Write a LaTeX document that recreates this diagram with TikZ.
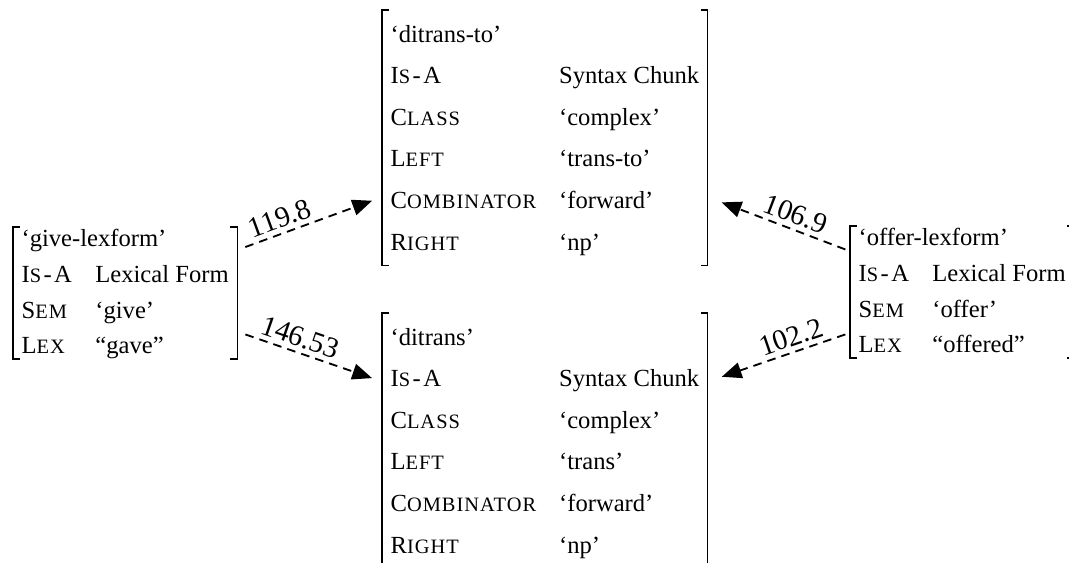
\documentclass[tikz,border=0pt]{standalone}
\usepackage{fontspec}
\setmainfont{Liberation Serif}
\usetikzlibrary{arrows.meta}
\newcommand{\smc}[1]{{\fontsize{8.3}{9.6}\selectfont\addfontfeature{LetterSpace=5}#1}}
\newcommand{\isa}{I\smc{S}\kern1pt-\kern1pt A}
\newcommand{\widthtick}{2.8pt}
\newcommand{\widthattrsmall}{30pt}
\newcommand{\widthattrbig}{68.5pt}
\newcommand{\lexform}[4]{%
    \renewcommand{\arraystretch}{1.21}%
    \begin{tabular}{@{}p{\widthattrsmall}@{}l@{}}
        \multicolumn{2}{@{}l@{}}{#1}\\
        \isa & #2\\
        S\smc{EM} & #3\\
        L\smc{EX} & #4
    \end{tabular}}
\newcommand{\chunk}[6]{%
    \renewcommand{\arraystretch}{1.41}%
    \begin{tabular}{@{}p{\widthattrbig}@{}l@{}}
        \multicolumn{2}{@{}l@{}}{#1}\\
        \isa & #2\\
        C\smc{LASS} & #3\\
        L\smc{EFT} & #4\\
        C\smc{OMBINATOR} & #5\\
        R\smc{IGHT} & #6
    \end{tabular}}
\tikzset{
    avm/.style={anchor=north west, inner xsep=3.3pt},
    lexavm/.style={avm, inner ysep=-2.4pt},
    chunkavm/.style={avm, inner ysep=1pt},
    bracket/.style={line width=0.5pt},
    link/.style={dash pattern=on 3.5pt off 2.5pt, line width=0.75pt, -{Triangle[length=8pt, width=6.5pt]}},
    weight/.style={sloped, above, inner sep=1.8pt, font=\fontsize{11.8}{14}\selectfont}
}
\newcommand{\brackets}[1]{%
    \draw[bracket] ([xshift=\widthtick]#1.north west) -| (#1.south west) -- ++(\widthtick,0);
    \draw[bracket] ([xshift=-\widthtick]#1.north east) -| (#1.south east) -- ++(-\widthtick,0);
}
\begin{document}
\begin{tikzpicture}[x=0.4065pt, y=-0.4065pt]
    \useasboundingbox (0,0) rectangle (1069,562);
    \clip (0,0) rectangle (1069,562);

    \path
        node[lexavm] (giveform) at (13,227) {\lexform{‘give-lexform’}{Lexical Form}{‘give’}{“gave”}}
        node[chunkavm] (ditransto) at (382,10) {\chunk{‘ditrans-to’}{Syntax Chunk}{‘complex’}{‘trans-to’}{‘forward’}{‘np’}}
        node[chunkavm] (ditrans) at (382,313) {\chunk{‘ditrans’}{Syntax Chunk}{‘complex’}{‘trans’}{‘forward’}{‘np’}}
        node[lexavm] (offerform) at (850,226) {\lexform{‘offer-lexform’}{Lexical Form}{‘offer’}{“offered”}};

    \brackets{giveform}
    \brackets{ditransto}
    \brackets{ditrans}
    \brackets{offerform}

    \draw[link, shorten <=3.5pt, shorten >=4.3pt] (giveform.21) -- node[weight, pos=0.33] {119.8} (ditransto.200);
    \draw[link, shorten <=3.5pt, shorten >=4.3pt] (giveform.-19) -- node[weight, pos=0.4] {146.53} (ditrans.160);
    \draw[link, shorten <=2pt, shorten >=6pt] (offerform.160) -- node[weight, pos=0.42] {106.9} (ditransto.-20);
    \draw[link, shorten <=2pt, shorten >=6pt] (offerform.200) -- node[weight, pos=0.38] {102.2} (ditrans.20);
\end{tikzpicture}
\end{document}
